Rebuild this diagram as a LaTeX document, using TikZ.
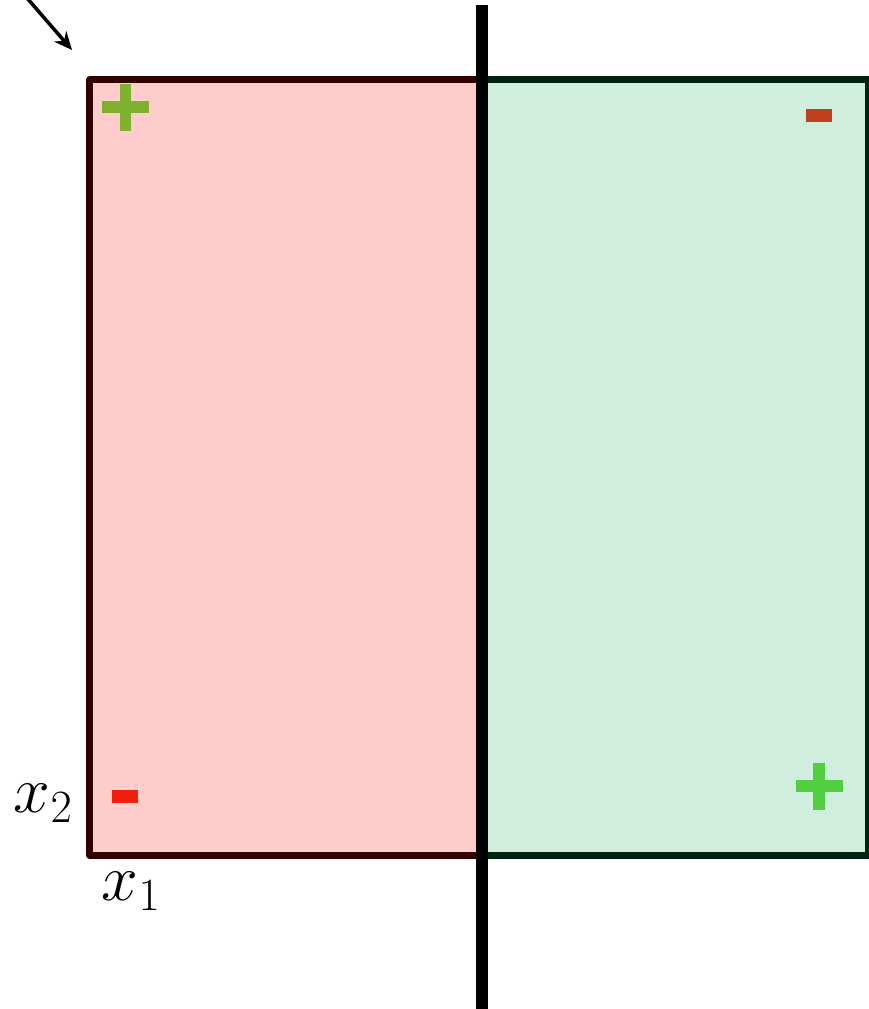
\RequirePackage{fix-cm}
\documentclass[tikz,border=0pt]{standalone}
\usetikzlibrary{arrows.meta}
\definecolor{redfill}{HTML}{FFCCCC}
\definecolor{redborder}{HTML}{330000}
\definecolor{greenfill}{HTML}{CFEEDD}
\definecolor{greenborder}{HTML}{002211}
\definecolor{plusA}{HTML}{80B030}
\definecolor{plusB}{HTML}{50D040}
\definecolor{minusA}{HTML}{C0401E}
\definecolor{minusB}{HTML}{F02010}
\tikzset{
  region/.style={line width=6.5pt, line join=round},
  signbar/.style={inner sep=0pt, draw=none},
  divider/.style={line width=12pt, black},
  lbl/.style={inner sep=0pt, font=\fontsize{66}{70}\selectfont}
}
\begin{document}
\begin{tikzpicture}[x=1pt,y=-1pt]
\useasboundingbox (0,0) rectangle (869,1009);
\begin{scope}
\clip (0,0) rectangle (869,1009);
% regions
\draw[region, draw=redborder, fill=redfill] (89.5,79.5) rectangle (480,855.5);
\draw[region, draw=greenborder, fill=greenfill] (483,79.5) rectangle (868.5,855.5);
\end{scope}
% divider
\coordinate (dtop) at (482,5);
\coordinate (dbot) at (482,1009);
\draw[divider] (dtop) -- (dbot);
% arrow
\coordinate (as) at (27,-2);
\coordinate (ae) at (72,50);
\draw[line width=3.5pt, -{Stealth[length=18pt,width=16pt]}] (as) -- (ae);
% plus top-left
\node[signbar, fill=plusA, minimum width=47pt, minimum height=11.5pt] (p1h) at (125.5,107) {};
\node[signbar, fill=plusA, minimum width=11.5pt, minimum height=47pt] (p1v) at (125.5,107) {};
% plus bottom-right
\node[signbar, fill=plusB, minimum width=47pt, minimum height=11.5pt] (p2h) at (819,786) {};
\node[signbar, fill=plusB, minimum width=11.5pt, minimum height=47pt] (p2v) at (819,786) {};
% minus
\node[signbar, fill=minusA, minimum width=26pt, minimum height=13pt] (m1) at (819,115.5) {};
\node[signbar, fill=minusB, minimum width=26pt, minimum height=13pt] (m2) at (125,796.5) {};
% labels
\node[lbl] (x2) at (43,803) {$x_2$};
\node[lbl] (x1) at (131,891) {$x_1$};
\end{tikzpicture}
\end{document}
